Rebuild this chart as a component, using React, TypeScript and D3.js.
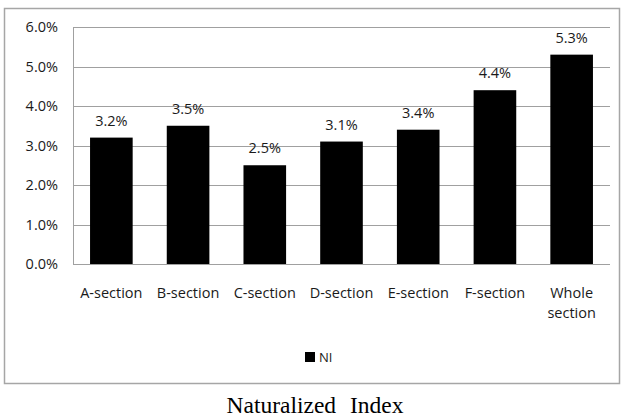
import React from "react";
import * as d3 from "d3";

const categories = ["A-section", "B-section", "C-section", "D-section", "E-section", "F-section", "Whole section"];
const values = [3.2, 3.5, 2.5, 3.1, 3.4, 4.4, 5.3];
const yTicks = [0, 1, 2, 3, 4, 5, 6];
const seriesName = "NI";
const title = "Naturalized Index";

export default function App() {
  const W = 623, H = 417;
  const plot = { left: 73, right: 610, top: 27, bottom: 264 };
  const x = d3.scaleBand<string>().domain(categories).range([plot.left, plot.right]).paddingInner(0.8 / 1.8).paddingOuter(0.4 / 1.8);
  const y = d3.scaleLinear().domain([0, 6]).range([plot.bottom, plot.top]);
  const font = "'Open Sans', sans-serif";
  const textColor = "#1a1a1a";
  const fs = 14.5;
  return (
    <svg width={W} height={H} style={{ position: "absolute", left: 0, top: 0, background: "#fff" }}>
      <rect x={4.5} y={8.5} width={615} height={375} fill="#fff" stroke="#a6a6a6" strokeWidth={1.5} />
      {yTicks.map((t) => (
        <g key={t}>
          <line x1={plot.left} x2={plot.right} y1={Math.round(y(t)) + 0.5} y2={Math.round(y(t)) + 0.5} stroke="#a0a0a0" strokeWidth={1} />
          <text x={58} y={y(t)} dy="0.35em" textAnchor="end" fontFamily={font} fontSize={fs} fill={textColor}>
            {t.toFixed(1) + "%"}
          </text>
        </g>
      ))}
      <line x1={plot.left + 0.5} x2={plot.left + 0.5} y1={plot.top} y2={plot.bottom} stroke="#a0a0a0" strokeWidth={1} />
      {categories.map((c, i) => (
        <g key={c}>
          <rect x={x(c)} y={y(values[i])} width={x.bandwidth()} height={plot.bottom - y(values[i])} fill="#000" />
          <text x={(x(c) as number) + x.bandwidth() / 2} y={y(values[i]) - 12} textAnchor="middle" fontFamily={font} fontSize={fs} fill={textColor}>
            {values[i].toFixed(1) + "%"}
          </text>
          {c === "Whole section" ? (
            <text x={(x(c) as number) + x.bandwidth() / 2} y={298} textAnchor="middle" fontFamily={font} fontSize={fs} fill={textColor}>
              <tspan x={(x(c) as number) + x.bandwidth() / 2} dy={0}>Whole</tspan>
              <tspan x={(x(c) as number) + x.bandwidth() / 2} dy={20}>section</tspan>
            </text>
          ) : (
            <text x={(x(c) as number) + x.bandwidth() / 2} y={298} textAnchor="middle" fontFamily={font} fontSize={fs} fill={textColor}>
              {c}
            </text>
          )}
        </g>
      ))}
      <rect x={305} y={352} width={10} height={10} fill="#000" />
      <text x={319} y={362} fontFamily={font} fontSize={13} fill={textColor}>{seriesName}</text>
      <text x={315} y={413} textAnchor="middle" fontFamily="'Liberation Serif', 'Times New Roman', serif" fontSize={23.5} wordSpacing={8} fill="#000">
        {title}
      </text>
    </svg>
  );
}
